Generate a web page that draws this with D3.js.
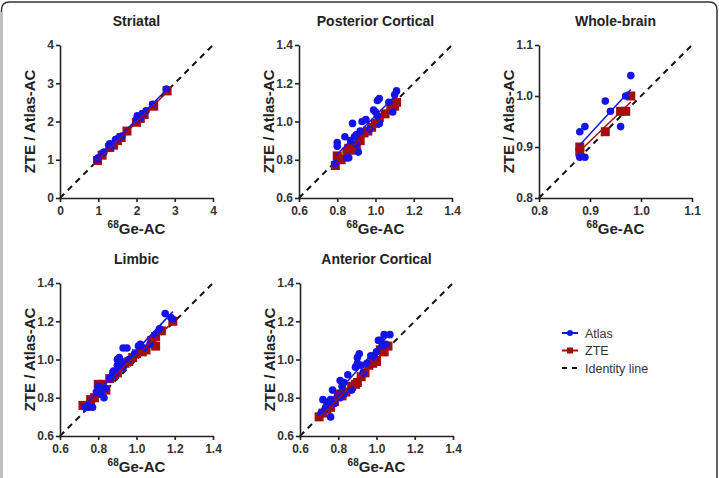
<!DOCTYPE html>
<html>
<head>
<meta charset="utf-8">
<script src="https://cdn.jsdelivr.net/npm/d3@7"></script>
<style>
  body { margin: 0; background: #fff; }
  svg { display: block; font-family: "Liberation Sans", Arial, sans-serif; }
</style>
</head>
<body>
<svg id="chart" width="719" height="478"></svg>
<script>
// data ================================================================
var striatalAtlas = [[0.97,1.02],[1.0,1.05],[1.12,1.18],[1.15,1.2],[1.28,1.38],[1.3,1.42],[1.35,1.35],[1.45,1.52],[1.5,1.55],[1.55,1.58],[1.62,1.62],[2.0,2.05],[2.02,2.15],[2.1,2.1],[2.15,2.2],[2.25,2.28],[2.42,2.45],[2.78,2.85]];
var striatalZTE = [[0.98,0.98],[1.1,1.12],[1.3,1.32],[1.4,1.38],[1.5,1.5],[1.6,1.58],[1.75,1.75],[2.0,1.98],[2.1,2.08],[2.2,2.18],[2.45,2.4],[2.8,2.8]];

var posteriorAtlas = [[0.79,0.78],[0.80,0.89],[0.80,0.87],[0.84,0.92],[0.85,0.81],[0.86,0.81],[0.87,0.90],[0.88,0.99],[0.89,0.92],[0.90,0.88],[0.90,0.93],[0.91,0.84],[0.92,0.95],[0.93,1.00],[0.95,1.01],[0.97,0.96],[0.99,1.06],[1.00,1.05],[1.01,1.03],[1.01,1.11],[1.02,1.12],[1.02,0.99],[1.07,1.10],[1.09,1.05],[1.11,1.16],[1.10,1.14]];
var posteriorZTE = [[0.79,0.77],[0.80,0.82],[0.82,0.80],[0.85,0.84],[0.86,0.86],[0.88,0.85],[0.90,0.87],[0.92,0.90],[0.94,0.94],[0.96,0.95],[0.98,0.97],[1.00,0.99],[1.02,1.02],[1.05,1.04],[1.08,1.07],[1.10,1.08],[1.11,1.10]];

var wholeAtlas = [[0.88,0.93],[0.88,0.88],[0.89,0.94],[0.89,0.88],[0.93,0.99],[0.94,0.97],[0.96,0.94],[0.97,1.00],[0.98,1.04]];
var wholeZTE = [[0.88,0.90],[0.88,0.89],[0.93,0.93],[0.96,0.97],[0.97,0.97],[0.98,1.00]];

var limbicAtlas = [[0.73,0.75],[0.74,0.76],[0.75,0.75],[0.77,0.75],[0.79,0.83],[0.80,0.86],[0.80,0.84],[0.81,0.82],[0.82,0.84],[0.83,0.80],[0.84,0.85],[0.86,0.90],[0.87,0.91],[0.88,0.94],[0.89,0.93],[0.90,0.97],[0.90,1.00],[0.91,1.01],[0.92,0.99],[0.93,0.96],[0.93,1.06],[0.95,1.06],[0.96,1.00],[0.99,1.03],[1.01,1.07],[1.02,1.08],[1.04,1.06],[1.07,1.08],[1.10,1.13],[1.12,1.16],[1.15,1.24],[1.18,1.22],[1.19,1.21]];
var limbicZTE = [[0.72,0.76],[0.76,0.79],[0.78,0.80],[0.80,0.87],[0.82,0.87],[0.84,0.84],[0.86,0.90],[0.88,0.92],[0.90,0.93],[0.92,0.96],[0.94,0.98],[0.96,0.99],[0.98,1.01],[1.00,1.03],[1.03,1.04],[1.05,1.05],[1.08,1.10],[1.10,1.07],[1.10,1.12],[1.13,1.15],[1.19,1.20]];

var anteriorAtlas = [[0.71,0.72],[0.72,0.79],[0.73,0.74],[0.74,0.76],[0.75,0.78],[0.76,0.70],[0.76,0.79],[0.77,0.84],[0.78,0.77],[0.81,0.80],[0.81,0.89],[0.82,0.86],[0.83,0.82],[0.83,0.88],[0.85,0.92],[0.87,0.84],[0.89,0.96],[0.90,1.01],[0.90,0.98],[0.91,1.03],[0.92,0.97],[0.93,0.93],[0.95,0.98],[0.97,1.02],[0.99,1.01],[1.00,1.04],[1.01,1.10],[1.02,1.10],[1.03,1.07],[1.04,1.13],[1.05,1.08],[1.07,1.13]];
var anteriorZTE = [[0.70,0.70],[0.72,0.72],[0.74,0.74],[0.76,0.75],[0.78,0.78],[0.80,0.82],[0.82,0.81],[0.84,0.83],[0.87,0.86],[0.89,0.87],[0.90,0.88],[0.92,0.91],[0.94,0.93],[0.96,0.97],[0.98,0.98],[1.00,0.99],[1.02,1.05],[1.04,1.04],[1.06,1.07]];

var ticksStriatal = [0, 1, 2, 3, 4];
var ticksCortical = [0.6, 0.8, 1.0, 1.2, 1.4];
var ticksWhole = [0.8, 0.9, 1.0, 1.1];

var legendLabels = ["Atlas", "ZTE", "Identity line"];

var BLUE = "#1414e6";
var RED = "#a50d0d";

// panels
var panels = [
  { title: "Striatal", left: 60, top: 45, ticks: ticksStriatal, fmt: d3.format("d"), atlas: striatalAtlas, zte: striatalZTE },
  { title: "Posterior Cortical", left: 299, top: 45, ticks: ticksCortical, fmt: d3.format(".1f"), atlas: posteriorAtlas, zte: posteriorZTE },
  { title: "Whole-brain", left: 539, top: 45, ticks: ticksWhole, fmt: d3.format(".1f"), atlas: wholeAtlas, zte: wholeZTE },
  { title: "Limbic", left: 60, top: 283, ticks: ticksCortical, fmt: d3.format(".1f"), atlas: limbicAtlas, zte: limbicZTE },
  { title: "Anterior Cortical", left: 300, top: 283, ticks: ticksCortical, fmt: d3.format(".1f"), atlas: anteriorAtlas, zte: anteriorZTE }
];
var W = 153, H = 153;

var svg = d3.select("#chart");

// outer frame, bottom cut off like the picture
svg.append("path")
  .attr("d", "M1.5,490 L1.5,10 Q1.5,2 9.5,2 L709,2 Q717,2 717,10 L717,490")
  .attr("fill", "none").attr("stroke", "#333").attr("stroke-width", 1.5);
svg.append("line").attr("x1", 1.5).attr("x2", 1.5).attr("y1", 12).attr("y2", 478)
  .attr("stroke", "#bbb").attr("stroke-width", 2);

function fit(pts) {
  var mx = d3.mean(pts, function(d) { return d[0]; });
  var my = d3.mean(pts, function(d) { return d[1]; });
  var sxy = d3.sum(pts, function(d) { return (d[0]-mx)*(d[1]-my); });
  var sxx = d3.sum(pts, function(d) { return (d[0]-mx)*(d[0]-mx); });
  var b = sxy/sxx, a = my - b*mx;
  var x0 = d3.min(pts, function(d) { return d[0]; });
  var x1 = d3.max(pts, function(d) { return d[0]; });
  return [[x0, a + b*x0], [x1, a + b*x1]];
}

panels.forEach(function(p) {
  var dom = [p.ticks[0], p.ticks[p.ticks.length-1]];
  var x = d3.scaleLinear().domain(dom).range([0, W]);
  var y = d3.scaleLinear().domain(dom).range([H, 0]);
  var g = svg.append("g").attr("transform", "translate(" + p.left + "," + p.top + ")");

  // title
  g.append("text").attr("x", W/2).attr("y", -19).attr("text-anchor", "middle")
    .attr("font-size", 14).attr("font-weight", "bold").attr("fill", "#222").text(p.title);

  // identity line
  g.append("line")
    .attr("x1", x(dom[0])).attr("y1", y(dom[0])).attr("x2", x(dom[1])).attr("y2", y(dom[1]))
    .attr("stroke", "#111").attr("stroke-width", 2).attr("stroke-dasharray", "6,5");

  // axes
  var xAxis = d3.axisBottom(x).tickValues(p.ticks).tickFormat(p.fmt).tickSize(4).tickSizeOuter(0);
  var yAxis = d3.axisLeft(y).tickValues(p.ticks).tickFormat(p.fmt).tickSize(4).tickSizeOuter(0);
  var gx = g.append("g").attr("transform", "translate(0," + H + ")").call(xAxis);
  var gy = g.append("g").call(yAxis);
  [gx, gy].forEach(function(a) {
    a.selectAll("path, line").attr("stroke", "#222").attr("stroke-width", 1.6);
    a.selectAll("text").attr("font-size", 12).attr("font-weight", "bold").attr("fill", "#333")
      .attr("font-family", "Liberation Sans, Arial, sans-serif");
  });
  gy.selectAll("text").attr("x", -6);
  gx.selectAll("text").attr("y", 8);

  // axis labels
  g.append("text").attr("transform", "translate(-25," + (H/2) + ") rotate(-90)")
    .attr("text-anchor", "middle").attr("font-size", 15).attr("font-weight", "bold").attr("fill", "#222")
    .text("ZTE / Atlas-AC");
  var xl = g.append("text").attr("x", W/2).attr("y", H + 36).attr("text-anchor", "middle")
    .attr("font-size", 15).attr("font-weight", "bold").attr("fill", "#222");
  xl.append("tspan").attr("font-size", 10).attr("dy", -6).text("68");
  xl.append("tspan").attr("dy", 6).text("Ge-AC");

  // ZTE squares
  g.selectAll("rect.zte").data(p.zte).enter().append("rect").attr("class", "zte")
    .attr("x", function(d) { return x(d[0]) - 4.5; }).attr("y", function(d) { return y(d[1]) - 4.5; })
    .attr("width", 9).attr("height", 9).attr("fill", RED);
  // Atlas circles
  g.selectAll("circle.atlas").data(p.atlas).enter().append("circle").attr("class", "atlas")
    .attr("cx", function(d) { return x(d[0]); }).attr("cy", function(d) { return y(d[1]); })
    .attr("r", 3.8).attr("fill", BLUE);

  // regression lines
  var line = d3.line().x(function(d) { return x(d[0]); }).y(function(d) { return y(d[1]); });
  g.append("path").attr("d", line(fit(p.zte))).attr("stroke", RED).attr("stroke-width", 1.5).attr("fill", "none");
  g.append("path").attr("d", line(fit(p.atlas))).attr("stroke", BLUE).attr("stroke-width", 1.5).attr("fill", "none");
});

// legend
var lg = svg.append("g").attr("transform", "translate(562,333)");
legendLabels.forEach(function(lab, i) {
  var row = lg.append("g").attr("transform", "translate(0," + (i * 17.5) + ")");
  if (i < 2) {
    var c = i === 0 ? BLUE : RED;
    row.append("line").attr("x1", 0).attr("x2", 16).attr("stroke", c).attr("stroke-width", 2);
    if (i === 0) row.append("circle").attr("cx", 8).attr("r", 3).attr("fill", c);
    else row.append("rect").attr("x", 5).attr("y", -3).attr("width", 6).attr("height", 6).attr("fill", c);
  } else {
    row.append("line").attr("x1", 0).attr("x2", 16).attr("stroke", "#111").attr("stroke-width", 2)
      .attr("stroke-dasharray", "5,5");
  }
  row.append("text").attr("x", 23).attr("y", 4.5).attr("font-size", 12.5).attr("fill", "#333").text(lab);
});
</script>
</body>
</html>
